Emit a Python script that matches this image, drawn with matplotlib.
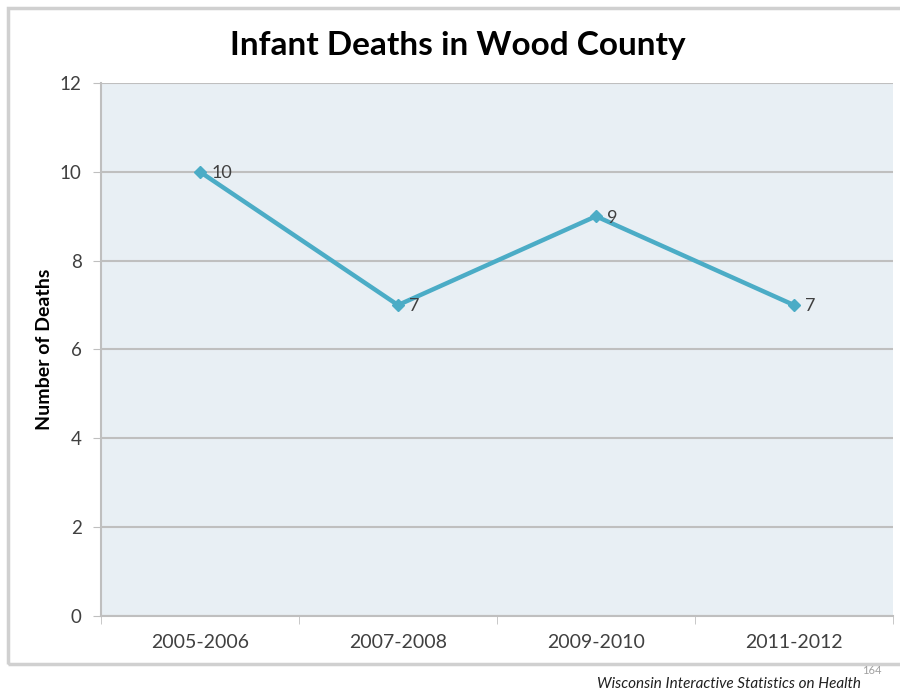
import matplotlib
import matplotlib.pyplot as plt
from matplotlib.patches import Rectangle

matplotlib.use("Agg")

periods = ["2005-2006", "2007-2008", "2009-2010", "2011-2012"]
deaths = [10, 7, 9, 7]
yticks = [0, 2, 4, 6, 8, 10, 12]

FONT = "Lato"


def main():
    """
    Description: Infant deaths per two-year period in Wood County.
    """
    fig = plt.figure(figsize=(9, 6.94), dpi=100)
    fig.patches.append(Rectangle((0.009, 0.043), 1.2, 0.945,
                                 transform=fig.transFigure, fill=False,
                                 edgecolor="#d0d0d0", linewidth=2.5))
    ax = fig.add_axes([0.1122, 0.1124, 0.88, 0.768])
    ax.set_facecolor("#e8eff4")

    xs = list(range(len(periods)))
    ax.plot(xs, deaths, color="#4bacc6", linewidth=3.2, marker="D",
            markersize=6, zorder=3)
    for x, v in zip(xs, deaths):
        ax.annotate(str(v), (x, v), xytext=(8, -1),
                    textcoords="offset points", va="center", ha="left",
                    fontsize=13, color="#404040", family=FONT)

    ax.set_xlim(-0.5, len(periods) - 0.5)
    ax.set_ylim(0, 12)
    ax.set_yticks(yticks)
    ax.set_xticks(xs)
    ax.set_xticklabels(periods)
    ax.set_xticks([i - 0.5 for i in range(len(periods) + 1)], minor=True)
    ax.grid(axis="y", color="#bfbfbf", linewidth=1.5)
    ax.set_axisbelow(True)
    for side in ["top", "right"]:
        ax.spines[side].set_visible(False)
    ax.spines["left"].set_color("#bfbfbf")
    ax.spines["bottom"].set_color("#bfbfbf")
    ax.spines["left"].set_linewidth(1.5)
    ax.spines["bottom"].set_linewidth(1.5)
    ax.tick_params(axis="y", length=6, color="#bfbfbf", labelsize=13.5,
                   labelcolor="#404040", pad=8)
    ax.tick_params(axis="x", which="major", length=0, labelsize=14,
                   labelcolor="#404040", pad=13)
    ax.tick_params(axis="x", which="minor", length=6, color="#bfbfbf")
    for lbl in ax.get_xticklabels() + ax.get_yticklabels():
        lbl.set_family(FONT)

    ax.set_ylabel("Number of Deaths", fontsize=14, fontweight="bold",
                  family=FONT, labelpad=5)
    fig.text(0.509, 0.934, "Infant Deaths in Wood County", ha="center",
             va="center", fontsize=24, fontweight="bold", family=FONT)
    fig.text(0.957, 0.015, "Wisconsin Interactive Statistics on Health",
             ha="right", va="center", fontsize=11, style="italic",
             family=FONT, color="#202020")
    fig.text(0.958, 0.034, "164", ha="left", va="center", fontsize=8,
             color="#a0a0a0", family=FONT)

    fig.savefig("out.png", dpi=100)
    return 0


if __name__ == "__main__":
    main()
